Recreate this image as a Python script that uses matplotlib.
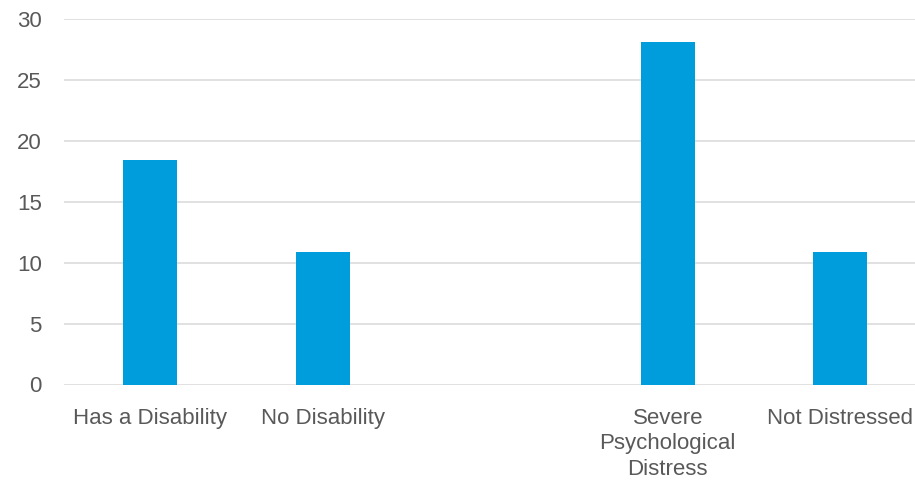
import numpy as np
import matplotlib.pyplot as plt

# category labels and percentages (blank slot separates the two groups)
groups = ['Has a Disability', 'No Disability', '', 'Severe\nPsychological\nDistress', 'Not Distressed']
values = [18.4, 10.9, np.nan, 28.1, 10.9]
yticks = [0, 5, 10, 15, 20, 25, 30]

plt.rcParams['font.family'] = ['Liberation Sans', 'DejaVu Sans']

fig = plt.figure(figsize=(9.15, 4.82), dpi=100)
ax = fig.add_axes([64 / 915, 1 - 384.5 / 482, 1 - 64 / 915, (384.5 - 19) / 482])

index = np.arange(len(groups))
ax.bar(index, values, width=0.314, color='#009DDC', zorder=3)

ax.set_xlim(-0.5, 4.433)
ax.set_ylim(0, 30)
ax.set_yticks(yticks)
ax.set_xticks(index)
ax.set_xticklabels(groups, linespacing=1.27)

ax.grid(axis='y', color='#D9D9D9', linewidth=1.1, zorder=0)
for s in ax.spines.values():
    s.set_visible(False)
ax.tick_params(axis='both', length=0, labelsize=16, labelcolor='#595959')
ax.tick_params(axis='y', pad=16)
ax.tick_params(axis='x', pad=17)

fig.savefig('out.png', dpi=100)
